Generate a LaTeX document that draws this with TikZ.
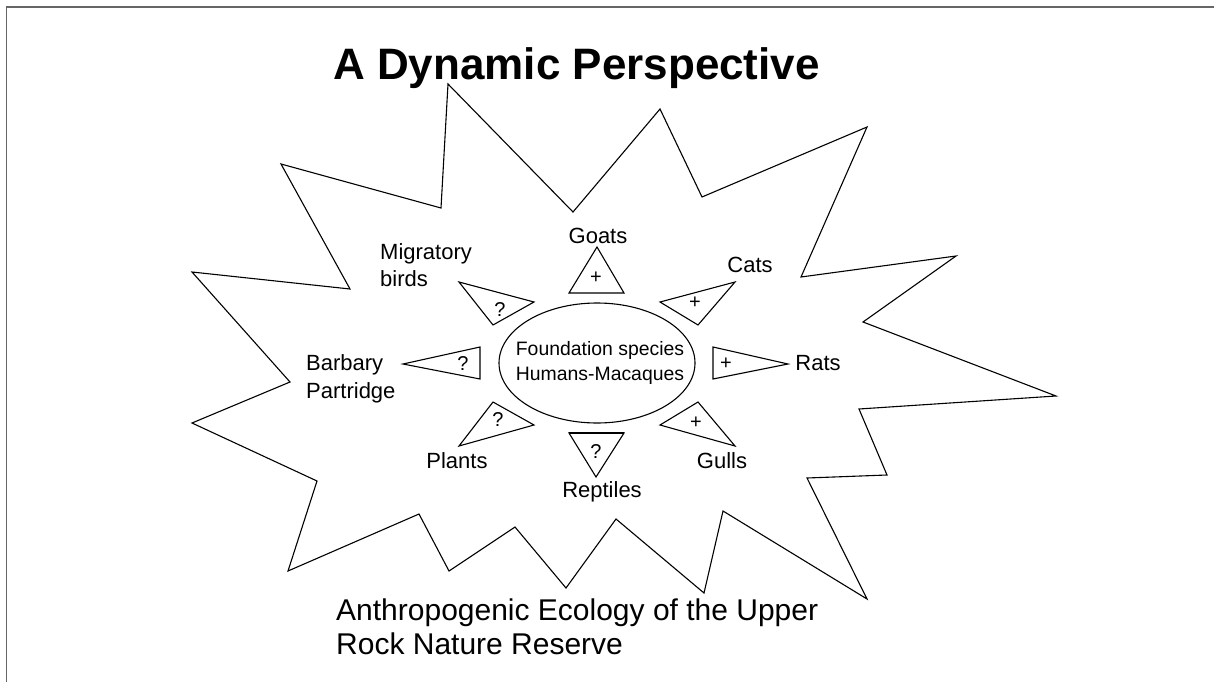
\documentclass[tikz,border=0pt]{standalone}
\usepackage{fontspec}
\setmainfont{Liberation Sans}
\begin{document}
\begin{tikzpicture}[x=1pt,y=-1pt,
  outline/.style={draw=black, line width=1.1pt, line join=miter},
  tri/.style={draw=black, line width=1.1pt, line join=miter},
  lbl/.style={font=\fontsize{22}{27}\selectfont, inner sep=0pt},
  sym/.style={font=\fontsize{20}{24}\selectfont, inner sep=0pt},
  frameline/.style={draw=black!60, line width=1.6pt}]
\useasboundingbox (0,0) rectangle (1214,682);
\draw[frameline] (6.5,682) -- (6.5,7) -- (1214,7);
% title
\node (title) [anchor=base, inner sep=0pt, font=\fontsize{44}{50}\selectfont\bfseries] at (576.5,80) {A Dynamic Perspective};
% star outline
\draw[outline] (448,84) -- (573,212) -- (660,109) -- (702,197) -- (867,127) -- (801,277)
  -- (956,256) -- (863,322) -- (1056,396) -- (859,409) -- (887,475) -- (807,478)
  -- (867,599) -- (723,511) -- (704,593) -- (616,519) -- (566,588) -- (515,527)
  -- (449,571) -- (419,514) -- (288,571) -- (317,481) -- (192,423) -- (290,382)
  -- (192,272) -- (350,289) -- (281,164) -- (441,208) -- cycle;
% central ellipse
\draw[outline] (597,363) ellipse [x radius=98, y radius=60];
\node (found) [align=center, font=\fontsize{19.4}{25}\selectfont, inner sep=0pt] at (600,363) {Foundation species\\Humans-Macaques};
% triangles
\draw[tri] (597,247) -- (569,293) -- (624,293) -- cycle;   % goats
\draw[tri] (459,282) -- (534,302) -- (493,325) -- cycle;   % migratory
\draw[tri] (735,282) -- (660,302) -- (698,325) -- cycle;   % cats
\draw[tri] (403,364) -- (480,347) -- (480,379) -- cycle;   % barbary
\draw[tri] (788,364) -- (713,347) -- (713,379) -- cycle;   % rats
\draw[tri] (493,402) -- (534,425) -- (459,446) -- cycle;   % plants
\draw[tri] (698,402) -- (660,425) -- (735,446) -- cycle;   % gulls
\draw[tri] (569,433) -- (624,433) -- (596,477) -- cycle;   % reptiles
\draw[line width=2.6pt] (569,433) -- (624,433);
% symbols
\node (sgoat) [sym] at (596,278) {+};
\node (smig) [sym] at (500,310) {?};
\node (scat) [sym] at (695,303) {+};
\node (sbar) [sym] at (463,364) {?};
\node (srat) [sym] at (726,364) {+};
\node (splant) [sym] at (498,420) {?};
\node (sgull) [sym] at (696,423) {+};
\node (srep) [sym] at (596,452) {?};
% labels
\node (goats) [lbl] at (598,236) {Goats};
\node (mig) [lbl, anchor=west, align=left] at (380,265) {Migratory\\birds};
\node (cats) [lbl] at (750,265) {Cats};
\node (barb) [lbl, anchor=west, align=left, font=\fontsize{22}{28}\selectfont] at (306,379) {Barbary\\Partridge};
\node (rats) [lbl] at (818,363) {Rats};
\node (plants) [lbl] at (457,461) {Plants};
\node (rept) [lbl] at (602,492) {Reptiles};
\node (gulls) [lbl] at (722,461) {Gulls};
% bottom caption
\node (cap1) [anchor=base west, inner sep=0pt, font=\fontsize{30}{34}\selectfont] at (336,620) {Anthropogenic Ecology of the Upper};
\node (cap2) [anchor=base west, inner sep=0pt, font=\fontsize{30}{34}\selectfont] at (336,654) {Rock Nature Reserve};
\end{tikzpicture}
\end{document}
